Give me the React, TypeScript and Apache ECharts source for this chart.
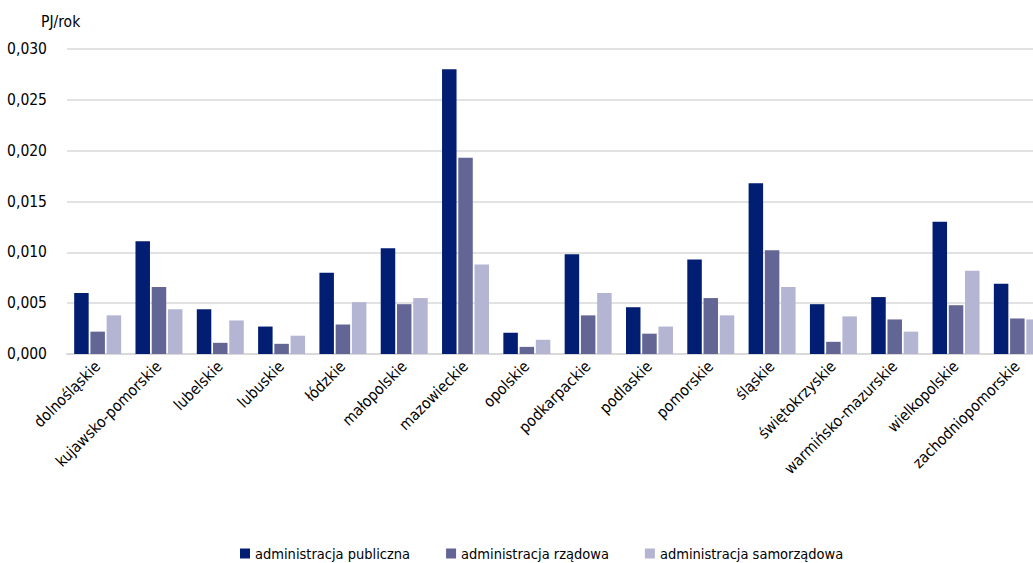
import React, { useEffect, useRef } from "react";
import * as echarts from "echarts";

const categories = [
  "dolnośląskie",
  "kujawsko-pomorskie",
  "lubelskie",
  "lubuskie",
  "łódzkie",
  "małopolskie",
  "mazowieckie",
  "opolskie",
  "podkarpackie",
  "podlaskie",
  "pomorskie",
  "śląskie",
  "świętokrzyskie",
  "warmińsko-mazurskie",
  "wielkopolskie",
  "zachodniopomorskie",
];

const publiczna = [
  0.006, 0.0111, 0.0044, 0.0027, 0.008, 0.0104, 0.028, 0.0021, 0.0098, 0.0046,
  0.0093, 0.0168, 0.0049, 0.0056, 0.013, 0.0069,
];
const rzadowa = [
  0.0022, 0.0066, 0.0011, 0.001, 0.0029, 0.0049, 0.0193, 0.0007, 0.0038, 0.002,
  0.0055, 0.0102, 0.0012, 0.0034, 0.0048, 0.0035,
];
const samorzadowa = [
  0.0038, 0.0044, 0.0033, 0.0018, 0.0051, 0.0055, 0.0088, 0.0014, 0.006, 0.0027,
  0.0038, 0.0066, 0.0037, 0.0022, 0.0082, 0.0034,
];

const seriesNames = [
  "administracja publiczna",
  "administracja rządowa",
  "administracja samorządowa",
];
const seriesColors = ["#021E73", "#636594", "#B4B4D3"];

const FONT = "'DejaVu Sans Condensed', 'Liberation Sans Narrow', sans-serif";

export default function App() {
  const ref = useRef<HTMLDivElement>(null);

  useEffect(() => {
    if (!ref.current) return;
    const chart = echarts.init(ref.current, undefined, { renderer: "svg" });
    const values = [publiczna, rzadowa, samorzadowa];
    chart.setOption({
      animation: false,
      textStyle: { fontFamily: FONT },
      grid: { left: 67, right: 12, top: 49, bottom: 209, containLabel: false },
      legend: {
        left: 235,
        top: 541,
        itemWidth: 10,
        itemHeight: 10,
        itemGap: 36,
        icon: "rect",
        textStyle: { fontFamily: FONT, fontSize: 14.5, color: "#000" },
        data: seriesNames,
      },
      graphic: [
        {
          type: "text",
          left: 41,
          top: 14,
          style: { text: "PJ/rok", font: `15.5px ${FONT}`, fill: "#000" },
        },
      ],
      xAxis: {
        type: "category",
        data: categories,
        axisTick: { show: false },
        axisLine: { lineStyle: { color: "#d9d9d9", width: 2 } },
        axisLabel: {
          rotate: 45,
          interval: 0,
          margin: 10,
          fontFamily: FONT,
          fontSize: 15.5,
          color: "#000",
        },
      },
      yAxis: {
        type: "value",
        min: 0,
        max: 0.03,
        interval: 0.005,
        splitLine: { lineStyle: { color: "#d9d9d9", width: 1.5 } },
        axisLabel: {
          margin: 20,
          fontFamily: FONT,
          fontSize: 15.5,
          color: "#000",
          formatter: (v: number) => v.toFixed(3).replace(".", ","),
        },
      },
      series: seriesNames.map((name, i) => ({
        name,
        type: "bar",
        data: values[i],
        barWidth: 14.5,
        barGap: "12%",
        itemStyle: { color: seriesColors[i] },
      })),
    });
    return () => chart.dispose();
  }, []);

  // The chart canvas is a bit wider than the visible frame, so the last
  // category group runs off the right edge.
  return (
    <div
      style={{
        position: "fixed",
        left: 0,
        top: 0,
        width: 1033,
        height: 563,
        overflow: "hidden",
        background: "#fff",
      }}
    >
      <div ref={ref} style={{ width: 1060, height: 563 }} />
    </div>
  );
}
